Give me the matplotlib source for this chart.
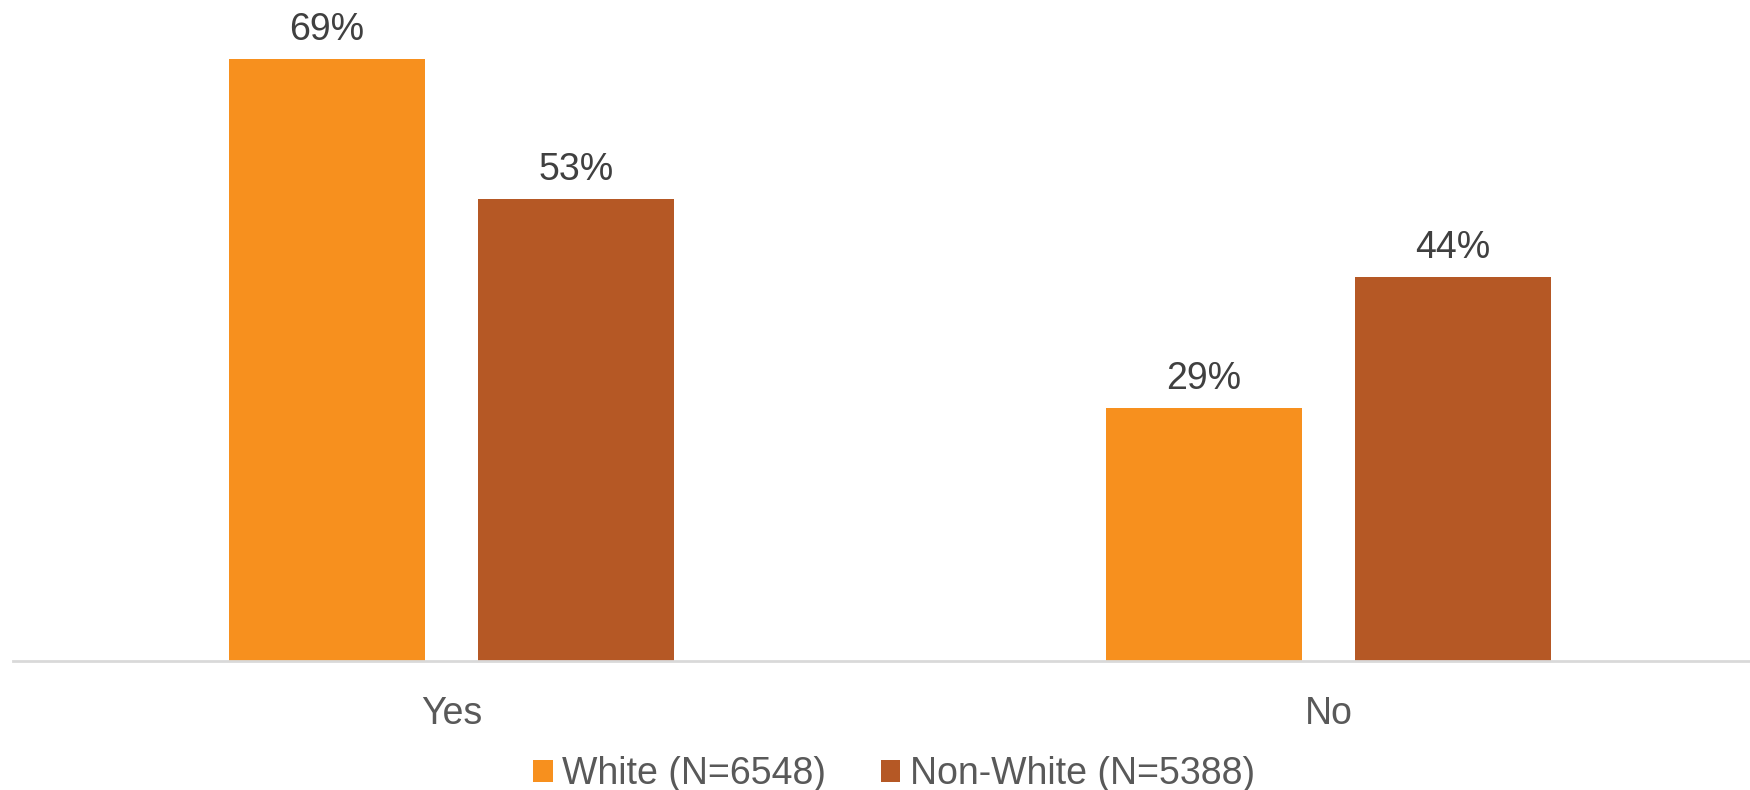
import matplotlib
matplotlib.use("Agg")
import matplotlib.pyplot as plt
import numpy as np

categories = ["Yes", "No"]
series_names = ["White (N=6548)", "Non-White (N=5388)"]
white = [69, 29]
non_white = [53, 44]
colors = ["#F7901E", "#B55825"]

plt.rcParams['font.family'] = ['Liberation Sans', 'DejaVu Sans']

fig = plt.figure(figsize=(17.5, 7.9), dpi=100)
ax = fig.add_axes([13/1750, 129/790, 1754/1750, 661/790])

x = np.arange(len(categories))
w = 0.2235
off = 0.142
b1 = ax.bar(x - off, white, w, color=colors[0], label=series_names[0])
b2 = ax.bar(x + off, non_white, w, color=colors[1], label=series_names[1])

for bars, vals in ((b1, white), (b2, non_white)):
    for r, v in zip(bars, vals):
        ax.annotate(f"{v}%", (r.get_x() + r.get_width()/2, r.get_height()),
                    xytext=(0, 19), textcoords="offset pixels",
                    ha="center", va="baseline", fontsize=27, color="#404040")

ax.set_xlim(-0.5, 1.5)
ax.set_ylim(0, 661/8.72)
ax.set_xticks(x)
ax.set_xticklabels(categories, fontsize=27, color="#595959")
ax.tick_params(axis="x", length=0, pad=25)
ax.set_yticks([])
for s in ["top", "right", "left"]:
    ax.spines[s].set_visible(False)
ax.spines["bottom"].set_color("#D9D9D9")
ax.spines["bottom"].set_linewidth(2)

fig.legend(loc="center", bbox_to_anchor=(894/1750, 0.020), ncol=2,
           frameon=False, fontsize=27, handlelength=0.52, handleheight=0.52,
           handletextpad=0.25, columnspacing=1.45, labelcolor="#595959",
           borderaxespad=0, borderpad=0.0)

fig.savefig("out.png", dpi=100)
